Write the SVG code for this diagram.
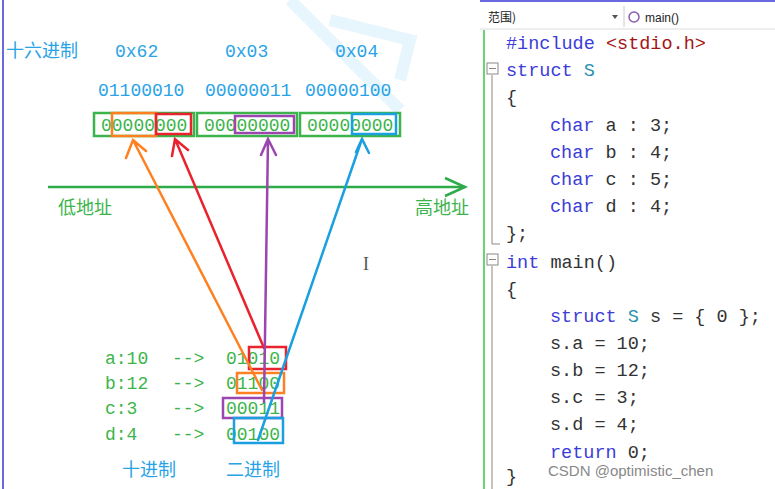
<svg xmlns="http://www.w3.org/2000/svg" width="775" height="489" viewBox="0 0 775 489">
<style>
.h{font-family:"Liberation Mono","Noto Sans CJK SC",monospace;font-size:18px;fill:#29a3e6}
.g{font-family:"Liberation Mono","Noto Sans CJK SC",monospace;font-size:18px;fill:#3cb44b}
.c{font-family:"Liberation Mono",monospace;font-size:18.5px;fill:#333}
.k{fill:#3c3cd8}
.t{fill:#2b91af}
.s{fill:#a31515}
.bx{fill:none;stroke-width:2.5}
.ar{fill:none;stroke-width:2.5;stroke-linecap:round}
</style>
<rect width="775" height="489" fill="#fff"/>
<line x1="3" y1="0" x2="3" y2="489" stroke="#6a6adf" stroke-width="2"/>
<g opacity="0.12" stroke="#3fb8f0" fill="none" stroke-width="12">
<path d="M290 0 L400 110"/><path d="M330 20 L410 40 L400 80"/>
</g>
<text class="h" x="6" y="57" font-size="17">十六进制</text>
<text class="h" x="115" y="57">0x62</text>
<text class="h" x="225" y="57">0x03</text>
<text class="h" x="335" y="57">0x04</text>
<text class="h" x="98" y="96">01100010</text>
<text class="h" x="205" y="96">00000011</text>
<text class="h" x="305" y="96">00000100</text>
<g id="bytes">
<rect class="bx" x="94" y="113" width="100" height="23" stroke="#3cb44b"/>
<rect class="bx" x="197" y="113" width="100" height="23" stroke="#3cb44b"/>
<rect class="bx" x="300" y="113" width="100" height="23" stroke="#3cb44b"/>
<text class="g" x="101" y="131">00000000</text>
<text class="g" x="204" y="131">00000000</text>
<text class="g" x="307" y="131">00000000</text>
<rect class="bx" x="112" y="113" width="44" height="23" stroke="#ff8020"/>
<rect class="bx" x="156" y="114" width="35" height="20" stroke="#e8232d"/>
<rect class="bx" x="235" y="116" width="59" height="17" stroke="#9b45b0"/>
<rect class="bx" x="352" y="114" width="44" height="20" stroke="#1a9fe0"/>
</g>
<g id="axis" stroke="#2eaa4a" stroke-width="2.5" fill="none">
<line x1="48" y1="187" x2="465" y2="187"/>
<polyline points="445,178 465,187 445,196"/>
</g>
<text class="g" x="58" y="214">低地址</text>
<text class="g" x="415" y="214">高地址</text>
<g id="values">
<text class="g" x="105" y="364">a:10</text><text class="g" x="172" y="364">--&gt;</text><text class="g" x="226" y="364">01010</text>
<text class="g" x="105" y="389">b:12</text><text class="g" x="172" y="389">--&gt;</text><text class="g" x="226" y="389">01100</text>
<text class="g" x="105" y="414">c:3</text><text class="g" x="172" y="414">--&gt;</text><text class="g" x="226" y="414">00011</text>
<text class="g" x="105" y="440">d:4</text><text class="g" x="172" y="440">--&gt;</text><text class="g" x="226" y="440">00100</text>
<rect class="bx" x="249" y="347" width="37" height="22" stroke="#e8232d"/>
<rect class="bx" x="237" y="373" width="47" height="20" stroke="#ff8020"/>
<rect class="bx" x="223" y="398" width="59" height="20" stroke="#9b45b0"/>
<rect class="bx" x="234" y="418" width="49" height="25" stroke="#1a9fe0"/>
</g>
<text class="h" x="122" y="476">十进制</text>
<text class="h" x="226" y="476">二进制</text>
<g id="connectors">
<path class="ar" stroke="#ff8020" d="M262 390 L133 140 M126 158 L133 140 L146 151"/>
<path class="ar" stroke="#e8232d" d="M264 348 L175 139 M172 156 L175 139 L188 150"/>
<path class="ar" stroke="#9b45b0" d="M264 402 L268 139 M261 155 L268 139 L276 155"/>
<path class="ar" stroke="#1a9fe0" d="M258 440 L362 139 M356 152 L362 139 L369 153"/>
</g>
<text x="363" y="270" font-family="Liberation Serif,serif" font-size="18" fill="#555">I</text>
<g id="editor">
<rect x="480" y="0" width="295" height="489" fill="#fff"/>
<line x1="480" y1="1" x2="775" y2="1" stroke="#6a6adf" stroke-width="2"/>
<line x1="480" y1="29" x2="775" y2="29" stroke="#ddd"/>
<line x1="624" y1="6" x2="624" y2="27" stroke="#ccc"/>
<text x="488" y="22" font-family="Noto Sans CJK SC,sans-serif" font-size="12" fill="#222">范围)</text>
<path d="M612 15 L618 15 L615 19Z" fill="#555"/>
<circle cx="634" cy="17" r="5" fill="none" stroke="#8a5cb0" stroke-width="1.5"/>
<text x="645" y="22" font-family="Liberation Sans,sans-serif" font-size="12" fill="#222">main()</text>
<line x1="484" y1="30" x2="484" y2="489" stroke="#6bd66b" stroke-width="2"/>
<g fill="none" stroke="#888">
<rect x="487" y="63" width="11" height="11"/><line x1="489" y1="68.5" x2="496" y2="68.5"/>
<rect x="487" y="254" width="11" height="11"/><line x1="489" y1="259.5" x2="496" y2="259.5"/>
<polyline points="492,75 492,244 500,244"/><polyline points="492,266 492,489"/>
</g>
<g class="c">
<text x="506" y="49"><tspan class="k">#include</tspan> <tspan class="s">&lt;stdio.h&gt;</tspan></text>
<text x="506" y="76"><tspan class="k">struct</tspan> <tspan class="t">S</tspan></text>
<text x="506" y="103">{</text>
<text x="550" y="131"><tspan class="k">char</tspan> a : 3;</text>
<text x="550" y="158"><tspan class="k">char</tspan> b : 4;</text>
<text x="550" y="185"><tspan class="k">char</tspan> c : 5;</text>
<text x="550" y="212"><tspan class="k">char</tspan> d : 4;</text>
<text x="506" y="239">};</text>
<text x="506" y="268"><tspan class="k">int</tspan> main()</text>
<text x="506" y="295">{</text>
<text x="550" y="322"><tspan class="k">struct</tspan> <tspan class="t">S</tspan> s = { 0 };</text>
<text x="550" y="349">s.a = 10;</text>
<text x="550" y="376">s.b = 12;</text>
<text x="550" y="403">s.c = 3;</text>
<text x="550" y="430">s.d = 4;</text>
<text x="550" y="458"><tspan class="k">return</tspan> 0;</text>
<text x="506" y="482">}</text>
</g>
<text x="548" y="476" font-family="Liberation Sans,sans-serif" font-size="15" fill="#888">CSDN @optimistic_chen</text>
</g>
</svg>
